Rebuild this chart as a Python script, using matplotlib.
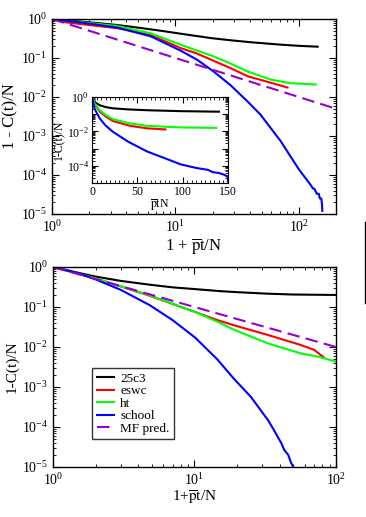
import math
import matplotlib
matplotlib.use("Agg")
import matplotlib.pyplot as plt
from matplotlib.ticker import LogLocator, NullFormatter, MultipleLocator, FuncFormatter
from matplotlib.lines import Line2D

plt.rcParams['font.family'] = ['Liberation Serif', 'DejaVu Serif']
plt.rcParams['mathtext.fontset'] = 'stix'

# ---------------- data: top panel (x = 1 + p t / N) ----------------
top_black_x = [1, 1.3, 1.79, 2.5, 3.4, 5, 7.6, 11, 14.5, 20, 28, 40, 71, 100, 142]
top_black_y = [1, 0.93, 0.85, 0.77, 0.70, 0.60, 0.50, 0.42, 0.37, 0.32, 0.285, 0.255, 0.22, 0.205, 0.195]

top_red_x = [1, 1.3, 1.79, 3.4, 6.3, 11, 14.5, 20.4, 28, 38.5, 60, 81]
top_red_y = [1, 0.82, 0.73, 0.58, 0.39, 0.18, 0.135, 0.085, 0.055, 0.034, 0.023, 0.0175]

top_green_x = [1, 1.79, 3.4, 6.3, 11, 14.5, 20.4, 28, 38.5, 59, 86, 137]
top_green_y = [1, 0.82, 0.66, 0.43, 0.22, 0.16, 0.11, 0.072, 0.045, 0.028, 0.0225, 0.021]

top_blue_x = [1, 1.79, 3.4, 6.3, 11, 15, 20.4, 28, 38.5, 49, 71, 100, 125, 130, 133,
              140, 145, 148, 152, 154, 155]
top_blue_y = [1, 0.8, 0.6, 0.36, 0.155, 0.09, 0.045, 0.02, 0.0076, 0.0035, 7.5e-4, 1.4e-4,
              5.5e-5, 4.5e-5, 4.5e-5, 3.3e-5, 3.3e-5, 2.5e-5, 2.5e-5, 1.8e-5, 1.2e-5]

top_mf_x = [1, 200]
top_mf_y = [1, 0.005]

# ---------------- data: inset (x = p t N, linear) ----------------
ins_black_x = [0, 3, 8.6, 15, 23, 40, 61, 98, 140]
ins_black_y = [1, 0.5, 0.33, 0.26, 0.22, 0.19, 0.17, 0.15, 0.14]
ins_red_x = [0, 3, 8.6, 15, 23, 42, 61, 81]
ins_red_y = [1, 0.38, 0.14, 0.075, 0.04, 0.021, 0.015, 0.013]
ins_green_x = [0, 3, 8.6, 15, 23, 42, 61, 98, 137]
ins_green_y = [1, 0.4, 0.17, 0.09, 0.051, 0.029, 0.021, 0.017, 0.016]
ins_blue_x = [0, 3, 8.6, 15, 23, 40, 61, 80, 98, 115, 128, 133, 140, 146, 150, 150]
ins_blue_y = [1, 0.2, 0.056, 0.022, 0.0095, 0.0025, 6.7e-4, 2.8e-4, 1.2e-4, 7.5e-5,
              5.8e-5, 4.3e-5, 3.8e-5, 3e-5, 2.2e-5, 1.2e-5]

# ---------------- data: bottom panel ----------------
bot_black_x = [1, 1.5, 1.98, 3, 4.85, 7, 10.1, 15, 20, 33, 50, 100]
bot_black_y = [1, 0.72, 0.58, 0.45, 0.36, 0.31, 0.28, 0.25, 0.235, 0.215, 0.205, 0.2]
bot_red_x = [1, 2, 4.85, 10.1, 14.5, 19, 33, 56.5, 70, 82]
bot_red_y = [1, 0.52, 0.19, 0.075, 0.047, 0.035, 0.02, 0.0112, 0.0085, 0.0055]
bot_green_x = [1, 2, 4.85, 10.1, 14.5, 19, 33, 56.5, 74, 100]
bot_green_y = [1, 0.52, 0.195, 0.075, 0.043, 0.027, 0.0123, 0.0069, 0.0058, 0.0043]
bot_blue_x = [1, 1.5, 2, 3, 4.85, 7, 10.1, 14.5, 19, 25, 33, 36, 38.7, 41, 43, 46, 48, 50]
bot_blue_y = [1, 0.7, 0.49, 0.27, 0.11, 0.047, 0.0172, 0.0049, 0.0016, 5.7e-4, 1.5e-4,
              9e-5, 5.7e-5, 4e-5, 2.7e-5, 2e-5, 1.3e-5, 1e-5]
bot_mf_x = [1, 100]
bot_mf_y = [1, 0.01]

series_names = ['25c3', 'eswc', 'ht', 'school', 'MF pred.']
colors = ['black', '#ff0000', '#00ff00', '#0000ff', '#9400d3']

W, H = 366, 517
fig = plt.figure(figsize=(W / 100, H / 100), dpi=100)

def style_log(ax, labelsize=10):
    ax.tick_params(which='both', direction='in', top=True, right=True, labelsize=labelsize)
    ax.tick_params(which='major', length=5, width=0.8)
    ax.tick_params(which='minor', length=2.5, width=0.6)
    ax.xaxis.set_major_locator(LogLocator(base=10, numticks=10))
    ax.xaxis.set_minor_locator(LogLocator(base=10, subs=range(2, 10), numticks=20))
    ax.yaxis.set_major_locator(LogLocator(base=10, numticks=10))
    ax.yaxis.set_minor_locator(LogLocator(base=10, subs=range(2, 10), numticks=20))
    ax.xaxis.set_minor_formatter(NullFormatter())
    ax.yaxis.set_minor_formatter(NullFormatter())
    for s in ax.spines.values():
        s.set_linewidth(1.0)

lw = 1.5
dash = (0, (6, 3))

# ---------------- top panel ----------------
ax1 = fig.add_axes([52 / W, 1 - 214 / H, 284 / W, 195 / H])
ax1.plot(top_black_x, top_black_y, color=colors[0], lw=lw)
ax1.plot(top_red_x, top_red_y, color=colors[1], lw=lw)
ax1.plot(top_green_x, top_green_y, color=colors[2], lw=lw)
ax1.plot(top_blue_x, top_blue_y, color=colors[3], lw=lw)
ax1.plot(top_mf_x, top_mf_y, color=colors[4], lw=lw, linestyle=dash)
ax1.set_xscale('log'); ax1.set_yscale('log')
ax1.set_xlim(1, 200); ax1.set_ylim(1e-5, 1)
style_log(ax1)
ax1.set_xlabel(r'1 + $\overline{\rm p}$t/N', fontsize=12, labelpad=1)
ax1.set_ylabel('1 - C(t)/N', fontsize=12, labelpad=2)

# ---------------- inset ----------------
axi = fig.add_axes([92 / W, 1 - 183 / H, 136 / W, 86 / H])
axi.plot(ins_black_x, ins_black_y, color=colors[0], lw=lw)
axi.plot(ins_red_x, ins_red_y, color=colors[1], lw=lw)
axi.plot(ins_green_x, ins_green_y, color=colors[2], lw=lw)
axi.plot(ins_blue_x, ins_blue_y, color=colors[3], lw=lw)
axi.set_yscale('log')
axi.set_xlim(0, 150); axi.set_ylim(1e-5, 1)
axi.tick_params(which='both', direction='in', top=True, right=True, labelsize=8.5, pad=2)
axi.tick_params(which='major', length=4, width=0.8)
axi.tick_params(which='minor', length=2.5, width=0.6)
axi.xaxis.set_major_locator(MultipleLocator(50))
axi.xaxis.set_minor_locator(MultipleLocator(5))
axi.yaxis.set_major_locator(LogLocator(base=10, numticks=10))
axi.yaxis.set_minor_locator(LogLocator(base=10, subs=range(2, 10), numticks=20))
axi.yaxis.set_minor_formatter(NullFormatter())

def ins_fmt(v, pos):
    e = int(round(math.log10(v)))
    if e % 2 == 0:
        return r'$\mathdefault{10^{%d}}$' % e
    return ''

axi.yaxis.set_major_formatter(FuncFormatter(ins_fmt))
axi.set_xlabel(r'$\overline{\rm p}$tN', fontsize=8.5, labelpad=0)
axi.set_ylabel('1-C(t)/N', fontsize=8.5, labelpad=1)

# ---------------- bottom panel ----------------
ax2 = fig.add_axes([53 / W, 1 - 467 / H, 283 / W, 200 / H])
ax2.plot(bot_black_x, bot_black_y, color=colors[0], lw=lw, label=series_names[0])
ax2.plot(bot_red_x, bot_red_y, color=colors[1], lw=lw, label=series_names[1])
ax2.plot(bot_green_x, bot_green_y, color=colors[2], lw=lw, label=series_names[2])
ax2.plot(bot_blue_x, bot_blue_y, color=colors[3], lw=lw, label=series_names[3])
ax2.plot(bot_mf_x, bot_mf_y, color=colors[4], lw=lw, linestyle=dash, label=series_names[4])
ax2.set_xscale('log'); ax2.set_yscale('log')
ax2.set_xlim(1, 100); ax2.set_ylim(1e-5, 1)
style_log(ax2)
ax2.set_xlabel(r'1+$\overline{\rm p}$t/N', fontsize=11, labelpad=1)
ax2.set_ylabel('1-C(t)/N', fontsize=11, labelpad=2)
leg = ax2.legend(loc='upper left', bbox_to_anchor=((92 - 53) / 283, (467 - 368) / 200),
                 fontsize=9.5, frameon=True, fancybox=False, handlelength=1.3,
                 handletextpad=0.5, borderpad=0.35, labelspacing=0.02, borderaxespad=0)
leg.get_frame().set_edgecolor('black')
leg.get_frame().set_linewidth(1.0)

# stray vertical line at the right edge
fig.add_artist(Line2D([365 / W, 365 / W], [1 - 222 / H, 1 - 303 / H], color='black', lw=1))

fig.savefig('out.png', dpi=100)
